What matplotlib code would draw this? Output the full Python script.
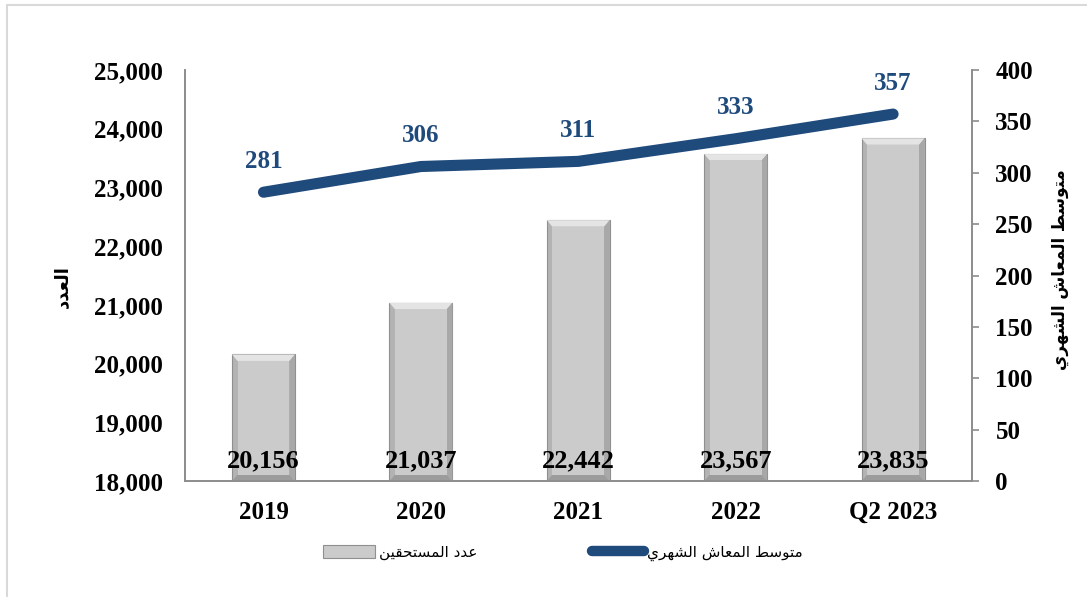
import numpy as np
import matplotlib
matplotlib.use("Agg")
import matplotlib.pyplot as plt
from matplotlib.patches import Patch, Rectangle
from matplotlib.lines import Line2D

# data
years = ["2019", "2020", "2021", "2022", "Q2 2023"]
beneficiaries = [20156, 21037, 22442, 23567, 23835]
avg_pension = [281, 306, 311, 333, 357]

left_label = "العدد"
right_label = "متوسط المعاش الشهري"
bar_name = "عدد المستحقين"
line_name = "متوسط المعاش الشهري"

line_color = "#1F4A7C"
serif = "Liberation Serif"
arabic_font = "DejaVu Sans"

# arabic shaping (matplotlib does no joining / rtl), forms: iso, fin, ini, med
forms = {
    'ا': ('\uFE8D', '\uFE8E', None, None),
    'ل': ('\uFEDD', '\uFEDE', '\uFEDF', '\uFEE0'),
    'ع': ('\uFEC9', '\uFECA', '\uFECB', '\uFECC'),
    'د': ('\uFEA9', '\uFEAA', None, None),
    'م': ('\uFEE1', '\uFEE2', '\uFEE3', '\uFEE4'),
    'ت': ('\uFE95', '\uFE96', '\uFE97', '\uFE98'),
    'و': ('\uFEED', '\uFEEE', None, None),
    'س': ('\uFEB1', '\uFEB2', '\uFEB3', '\uFEB4'),
    'ط': ('\uFEC1', '\uFEC2', '\uFEC3', '\uFEC4'),
    'ش': ('\uFEB5', '\uFEB6', '\uFEB7', '\uFEB8'),
    'ه': ('\uFEE9', '\uFEEA', '\uFEEB', '\uFEEC'),
    'ر': ('\uFEAD', '\uFEAE', None, None),
    'ي': ('\uFEF1', '\uFEF2', '\uFEF3', '\uFEF4'),
    'ح': ('\uFEA1', '\uFEA2', '\uFEA3', '\uFEA4'),
    'ق': ('\uFED5', '\uFED6', '\uFED7', '\uFED8'),
    'ن': ('\uFEE5', '\uFEE6', '\uFEE7', '\uFEE8'),
}


def shape(text):
    out = []
    for i, c in enumerate(text):
        if c not in forms:
            out.append(c)
            continue
        prev = text[i - 1] if i > 0 else ""
        nxt = text[i + 1] if i < len(text) - 1 else ""
        lp = prev in forms and forms[prev][2] is not None
        ln = nxt in forms and forms[c][2] is not None
        if lp and ln:
            out.append(forms[c][3])
        elif lp:
            out.append(forms[c][1])
        elif ln:
            out.append(forms[c][2])
        else:
            out.append(forms[c][0])
    return "".join(out)[::-1]


fig = plt.figure(figsize=(10.87, 5.97), dpi=100)
ax = fig.add_axes([0.170, 0.194, 0.724, 0.689])
ax2 = ax.twinx()

# light frame round the chart
fig.patches.append(Rectangle((7 / 1087, -0.05), 1.2, 1 - 5 / 597 + 0.05,
                             transform=fig.transFigure, fill=False,
                             edgecolor="#d9d9d9", lw=1.5, zorder=0))

x = np.arange(len(years))
vals = np.array(beneficiaries)
base = 18000
w = 0.4
bx = 0.035   # bevel widths
by = 110

# bevelled bars
ax.bar(x, vals - base, bottom=base, width=w, color="#b3b3b3",
       edgecolor="#8f8f8f", lw=0.8, zorder=2)
for xi, v in zip(x, vals):
    l, r = xi - w / 2, xi + w / 2
    ax.fill([l, r, r - bx, l + bx], [v, v, v - by, v - by],
            color="#e4e4e4", lw=0, zorder=3)
    ax.fill([l, r, r - bx, l + bx], [base, base, base + by, base + by],
            color="#9c9c9c", lw=0, zorder=3)
    ax.fill([r, r - bx, r - bx, r], [base, base + by, v - by, v],
            color="#a8a8a8", lw=0, zorder=3)
ax.bar(x, vals - base - 2 * by, bottom=base + by, width=w - 2 * bx,
       color="#cbcbcb", lw=0, zorder=4)

for xi, v in zip(x, vals):
    ax.annotate(f"{v:,}", (xi, base), xytext=(0, 10), textcoords="offset points",
                ha="center", va="baseline", fontsize=19, fontweight="bold",
                family=serif, color="black", zorder=6)

ax.set_ylim(18000, 25000)
ax.set_yticks(np.arange(18000, 25001, 1000))
ax.set_yticklabels([f"{t:,}" for t in range(18000, 25001, 1000)])
ax.set_xlim(-0.5, len(years) - 0.5)
ax.set_xticks(x)
ax.set_xticklabels(years)

ax2.plot(x, avg_pension, color=line_color, lw=8, solid_capstyle="round",
         solid_joinstyle="round", zorder=5)
for xi, v in zip(x, avg_pension):
    ax2.annotate(str(v), (xi, v), xytext=(0, 14), textcoords="offset points",
                 ha="center", va="bottom", fontsize=18, fontweight="bold",
                 family=serif, color=line_color)
ax2.set_ylim(0, 400)
ax2.set_yticks(range(0, 401, 50))

for a in (ax, ax2):
    for s in a.spines.values():
        s.set_color("#8c8c8c")
        s.set_linewidth(1.2)
    a.spines["top"].set_visible(False)
    for t in a.get_yticklabels() + a.get_xticklabels():
        t.set_fontfamily(serif)
        t.set_fontweight("bold")
        t.set_fontsize(18)

ax.tick_params(axis="y", length=0, pad=16)
ax.tick_params(axis="x", length=0, pad=14)
ax2.tick_params(axis="y", length=5, width=1.2, color="#8c8c8c", pad=12)

fig.text(0.057, 0.52, shape(left_label), rotation=90, ha="center", va="center",
         fontsize=13, fontweight="bold", family=arabic_font)
fig.text(0.975, 0.548, shape(right_label), rotation=90, ha="center", va="center",
         fontsize=12, fontweight="bold", family=arabic_font)

handles = [Patch(facecolor="#cbcbcb", edgecolor="#8f8f8f", lw=0.8),
           Line2D([0], [0], color=line_color, lw=7.5, solid_capstyle="round")]
leg = fig.legend(handles, [shape(bar_name), shape(line_name)],
                 loc="center", bbox_to_anchor=(0.518, 0.074), ncol=2,
                 frameon=False, prop={"family": arabic_font, "size": 11},
                 handlelength=3.4, handleheight=0.9, columnspacing=7.5,
                 handletextpad=0.25)

fig.savefig("out.png", dpi=100)
